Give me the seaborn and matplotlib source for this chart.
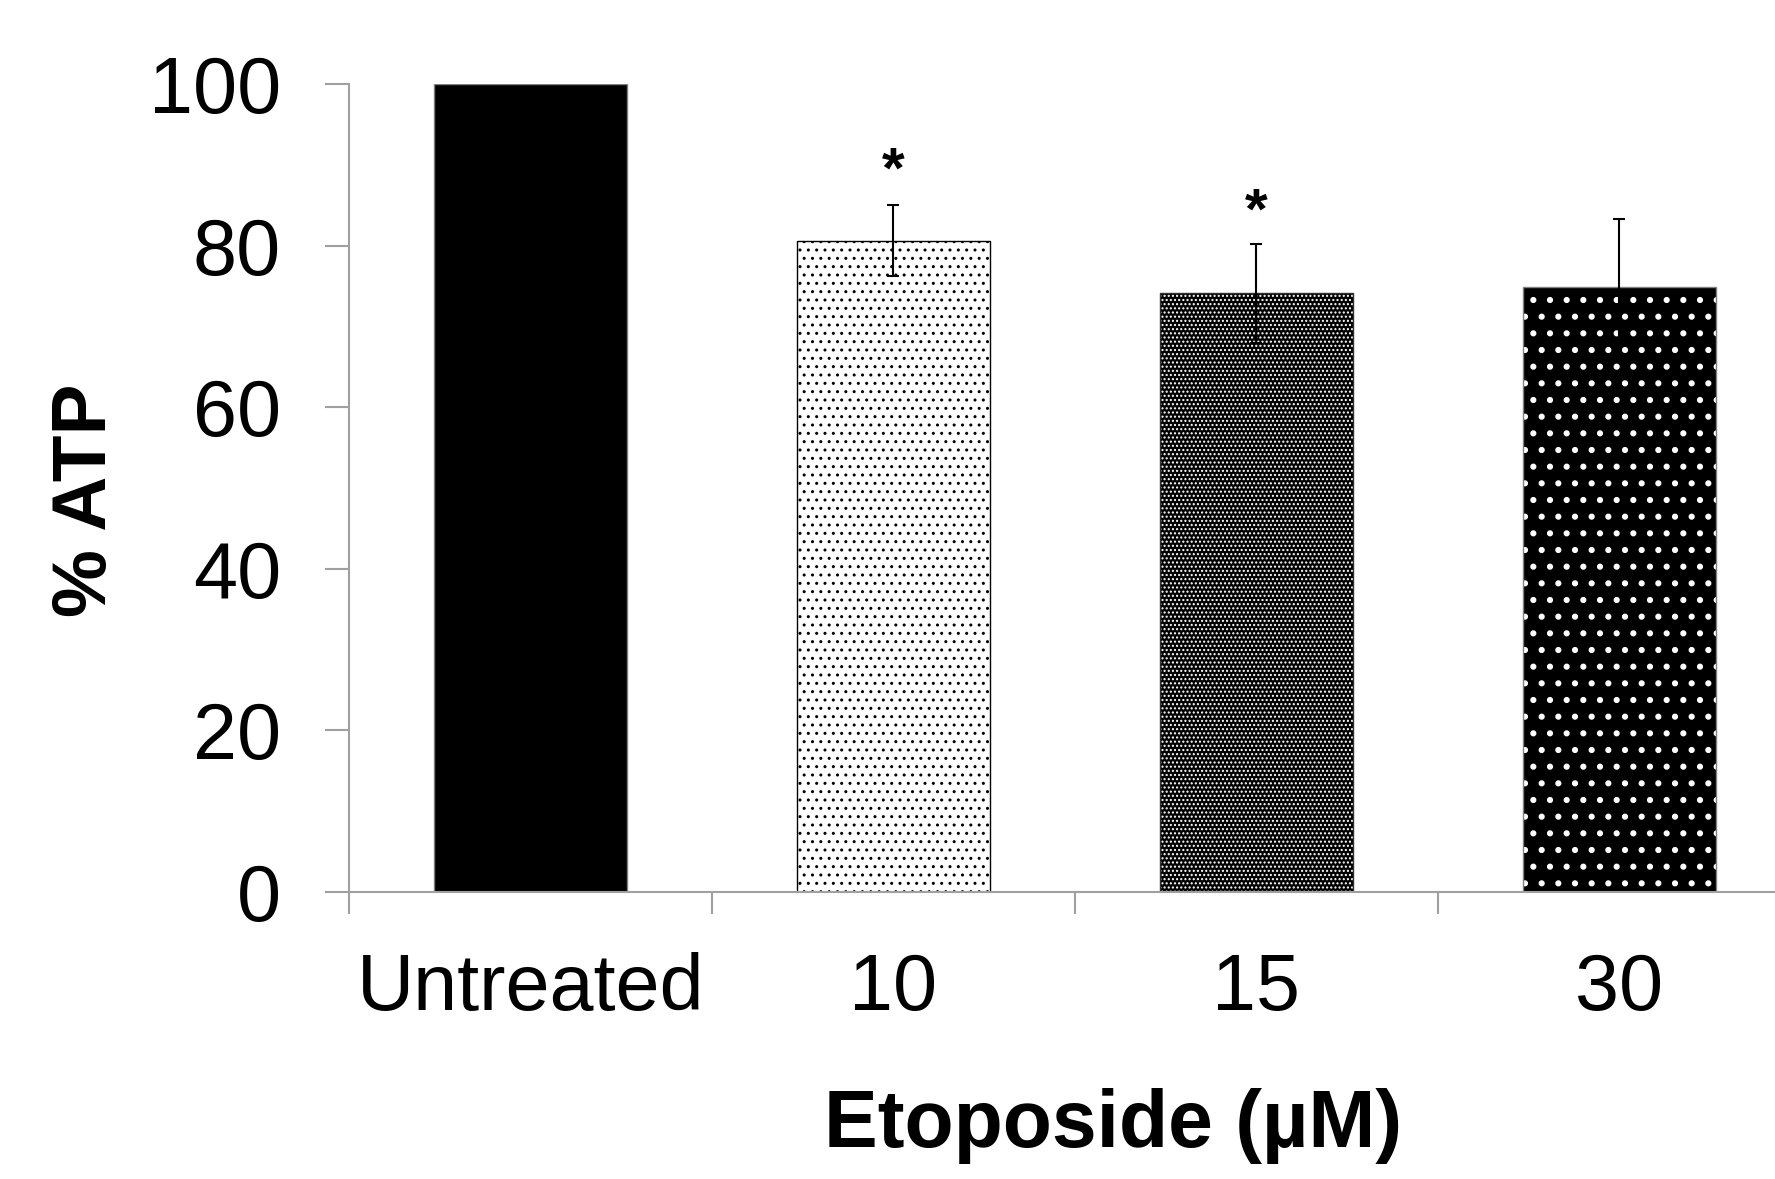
import matplotlib
matplotlib.use("Agg")
import matplotlib.pyplot as plt
import matplotlib.colors as mcolors
import seaborn as sns
import numpy as np

# ---- data ----
categories = ["Untreated", "10", "15", "30"]
atp_pct = [100.0, 80.6, 74.1, 74.9]
atp_err = [0.0, 4.4, 6.1, 8.35]
star_cats = [1, 2]
star_y = [89.0, 84.0]
y_ticks = [0, 20, 40, 60, 80, 100]
x_label = "Etoposide (µM)"
y_label = "% ATP"

sns.set_style("white")
plt.rcParams['font.family'] = ['Liberation Sans', 'DejaVu Sans']
plt.rcParams['text.color'] = 'black'
plt.rcParams['axes.labelcolor'] = 'black'
plt.rcParams['xtick.color'] = 'black'
plt.rcParams['ytick.color'] = 'black'
plt.rcParams['hatch.linewidth'] = 1.0

fig = plt.figure(figsize=(17.75, 11.79), dpi=100)
ax = fig.add_axes([0.1966, 0.2434, 0.818, 0.6853])

sns.barplot(x=categories, y=atp_pct, color="black", width=0.53,
            errorbar=None, ax=ax, zorder=2)

faces = ['black', 'white', 'black', 'black']
hatches = [None, '..', '....', '.']
hatch_cols = [None, 'black', 'white', 'white']
edges = ['#808080', 'black', '#303030', '#808080']
hatch_lws = [1.0, 1.0, 1.0, 2.0]
for p, fc, h, hc, ec, hlw in zip(ax.patches, faces, hatches, hatch_cols, edges, hatch_lws):
    p.set_facecolor(fc)
    p.set_edgecolor(ec)
    p.set_linewidth(1.0)
    if h:
        p.set_hatch(h)
        p._hatch_color = mcolors.to_rgba(hc)
        if hasattr(p, "set_hatch_linewidth"):
            p.set_hatch_linewidth(hlw)

idx = np.arange(1, len(categories))
ax.errorbar(idx, np.array(atp_pct)[1:], yerr=np.array(atp_err)[1:], fmt='none',
            ecolor='black', elinewidth=1.5, capsize=4.3, capthick=1.5, zorder=3)

for c, y in zip(star_cats, star_y):
    ax.text(c, y, "*", ha='center', va='center', fontsize=42, fontweight='bold',
            color='black')

ax.set_xlim(-0.5, 3.5)
ax.set_ylim(0, 100)
ax.set_yticks(y_ticks)
ax.set_yticklabels([str(t) for t in y_ticks])
ax.set_xticks(range(len(categories)))
ax.set_xticklabels(categories)
ax.set_xticks(np.arange(-0.5, len(categories) + 0.5, 1.0), minor=True)

gray = '#a0a0a0'
for s in ['top', 'right']:
    ax.spines[s].set_visible(False)
for s in ['left', 'bottom']:
    ax.spines[s].set_color(gray)
    ax.spines[s].set_linewidth(1.5)

ax.tick_params(axis='y', which='major', direction='out', length=17, width=1.5,
               color=gray, labelcolor='black', pad=32, labelsize=57, left=True)
ax.tick_params(axis='x', which='major', length=0, pad=43, labelsize=57,
               labelcolor='black')
ax.tick_params(axis='x', which='minor', direction='out', length=16, width=1.5,
               color=gray, bottom=True)

ax.set_xlabel(x_label, fontsize=58, fontweight='bold', color='black')
ax.xaxis.label.set_verticalalignment('baseline')
ax.xaxis.set_label_coords(0.526, -0.3156)
ax.set_ylabel(y_label, fontsize=55, fontweight='bold', color='black')
ax.yaxis.label.set_verticalalignment('center')
ax.yaxis.set_label_coords(-0.1805, 0.485)

fig.savefig("out.png", dpi=100)
